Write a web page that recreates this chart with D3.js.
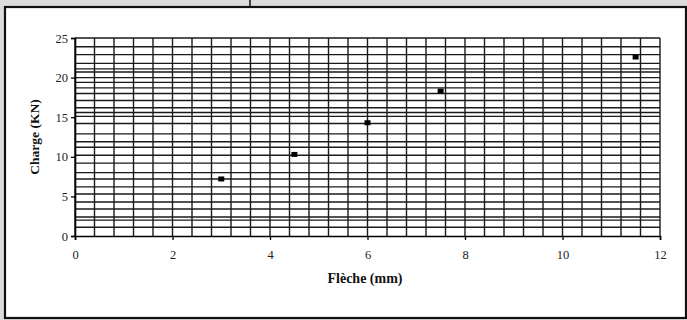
<!DOCTYPE html>
<html>
<head>
<meta charset="utf-8">
<script src="https://cdn.jsdelivr.net/npm/d3@7"></script>
<style>
  body { margin: 0; background: #d9d9d9; }
  svg { display: block; }
</style>
</head>
<body>
<script>
// data
const fleche = [3, 4.5, 6, 7.5, 11.5];
const charge = [7.2, 10.3, 14.3, 18.3, 22.6];
const xTicks = [0, 2, 4, 6, 8, 10, 12];
const yTicks = [0, 5, 10, 15, 20, 25];
// graph-paper lines (irregular in the scan)
const hGrid = [1.1, 2.0, 2.4, 3.4, 4.3, 5.3, 6.2, 7.2, 8.0, 9.2, 10.2, 11.2, 11.9, 12.9,
  14.2, 15.1, 15.6, 16.2, 17.1, 18.0, 18.7, 19.4, 20.0, 20.7, 21.1, 21.8, 22.9, 23.9, 25];
const vGrid = d3.range(0, 31).map(i => i * 0.4);

const W = 687, H = 320;
const svg = d3.select("body").append("svg").attr("width", W).attr("height", H);

// page frame
svg.append("rect").attr("x", 0).attr("y", 0).attr("width", W).attr("height", H).attr("fill", "#dcdcdc");
svg.append("rect").attr("x", 5).attr("y", 7).attr("width", 681).attr("height", 311)
  .attr("fill", "#fff").attr("stroke", "#111").attr("stroke-width", 2.2);
svg.append("line").attr("x1", 250).attr("x2", 250).attr("y1", 0).attr("y2", 7)
  .attr("stroke", "#111").attr("stroke-width", 1.5);

const x = d3.scaleLinear().domain([0, 12]).range([75, 660]);
const y = d3.scaleLinear().domain([0, 25]).range([236, 38]);

const g = svg.append("g");

// grid
g.selectAll(".h").data(hGrid).enter().append("line")
  .attr("x1", x(0)).attr("x2", x(12))
  .attr("y1", d => y(d)).attr("y2", d => y(d))
  .attr("stroke", "#1a1a1a").attr("stroke-width", 1.4);
g.selectAll(".v").data(vGrid).enter().append("line")
  .attr("x1", d => x(d)).attr("x2", d => x(d))
  .attr("y1", y(0)).attr("y2", y(25))
  .attr("stroke", "#1a1a1a").attr("stroke-width", 1.4);

// axes
const xAxis = svg.append("g").attr("transform", `translate(0,${y(0)})`)
  .call(d3.axisBottom(x).tickValues(xTicks).tickSize(4).tickPadding(10));
const yAxis = svg.append("g").attr("transform", `translate(${x(0)},0)`)
  .call(d3.axisLeft(y).tickValues(yTicks).tickSize(4).tickPadding(3));
[xAxis, yAxis].forEach(a => {
  a.select(".domain").attr("stroke", "#000").attr("stroke-width", 1.6);
  a.selectAll(".tick line").attr("stroke", "#000").attr("stroke-width", 1.3);
  a.selectAll("text").attr("font-family", "Liberation Serif, serif")
    .attr("font-size", 12.5).attr("fill", "#222");
});

// points
svg.selectAll(".pt").data(fleche).enter().append("rect")
  .attr("x", d => x(d) - 3)
  .attr("y", (d, i) => y(charge[i]) - 2.5)
  .attr("width", 6).attr("height", 5)
  .attr("fill", "#000");

// axis titles
svg.append("text").attr("x", 365).attr("y", 283)
  .attr("text-anchor", "middle").attr("font-family", "Liberation Serif, serif")
  .attr("font-weight", "bold").attr("font-size", 14).attr("fill", "#111")
  .text("Flèche (mm)");
svg.append("text").attr("transform", "translate(39,137) rotate(-90)")
  .attr("text-anchor", "middle").attr("font-family", "Liberation Serif, serif")
  .attr("font-weight", "bold").attr("font-size", 13.5).attr("fill", "#111")
  .text("Charge (KN)");
</script>
</body>
</html>
